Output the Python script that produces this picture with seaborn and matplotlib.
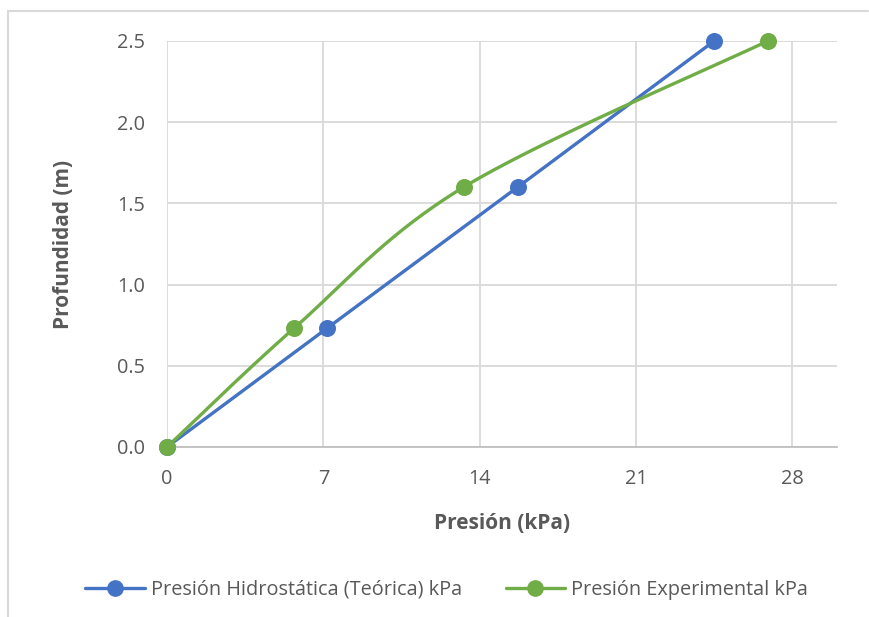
import numpy as np
import pandas as pd
import matplotlib
matplotlib.use("Agg")
import matplotlib.pyplot as plt
from matplotlib.lines import Line2D
import seaborn as sns

# Depth (m) and pressure (kPa) readings
profundidad = [0.0, 0.73, 1.60, 2.50]
presion_teorica = [0.0, 7.15, 15.70, 24.50]
presion_experimental = [0.0, 5.68, 13.28, 26.90]

series_names = ["Presión Hidrostática (Teórica) kPa", "Presión Experimental kPa"]
series_colors = ["#4472C4", "#70AD47"]
x_ticks = [0, 7, 14, 21, 28]
y_ticks = [0.0, 0.5, 1.0, 1.5, 2.0, 2.5]

TEXT = "#595959"
GRID = "#D9D9D9"


def smooth_curve(xs, ys, n=60):
    """Cubic Bezier smoothing through the points (Catmull-Rom style)."""
    p = np.column_stack([xs, ys]).astype(float)
    ext = np.vstack([p[0], p, p[-1]])
    out = []
    t = np.linspace(0, 1, n)[:, None]
    for i in range(len(p) - 1):
        p0, p3 = ext[i + 1], ext[i + 2]
        c1 = p0 + (ext[i + 2] - ext[i]) / 6.0
        c2 = p3 - (ext[i + 3] - ext[i + 1]) / 6.0
        seg = ((1 - t) ** 3) * p0 + 3 * ((1 - t) ** 2) * t * c1 + 3 * (1 - t) * t ** 2 * c2 + t ** 3 * p3
        out.append(seg if i == 0 else seg[1:])
    return np.vstack(out)


sns.set_theme(style="white")
plt.rcParams["font.family"] = ["Open Sans", "DejaVu Sans"]

fig = plt.figure(figsize=(8.69, 6.17), dpi=100)
ax = fig.add_axes([167 / 869, 1 - 447 / 617, (837 - 167) / 869, (447 - 41) / 617])

for xs, name, color in zip([presion_teorica, presion_experimental], series_names, series_colors):
    curve = smooth_curve(xs, profundidad)
    df_curve = pd.DataFrame({"x": curve[:, 0], "y": curve[:, 1]})
    sns.lineplot(data=df_curve, x="x", y="y", sort=False, estimator=None,
                 color=color, linewidth=2.4, ax=ax, zorder=3)
    df_pts = pd.DataFrame({"x": xs, "y": profundidad})
    sns.scatterplot(data=df_pts, x="x", y="y", color=color, s=150,
                    edgecolor=color, linewidth=0, ax=ax, zorder=4, clip_on=False)

ax.set_xlim(0, 30)
ax.set_ylim(0, 2.5)
ax.set_xticks(x_ticks)
ax.set_yticks(y_ticks)
ax.set_yticklabels([f"{v:.1f}" for v in y_ticks])
ax.grid(True, color=GRID, linewidth=1.3)
ax.set_axisbelow(True)
for side in ["top", "right", "left"]:
    ax.spines[side].set_visible(False)
ax.spines["bottom"].set_color("#BFBFBF")
ax.spines["bottom"].set_linewidth(1.3)
ax.tick_params(axis="both", length=0, labelsize=14.3, colors=TEXT)
ax.tick_params(axis="y", pad=16)
ax.tick_params(axis="x", pad=16)

ax.set_xlabel("Presión (kPa)", fontsize=15, fontweight="bold", color=TEXT, labelpad=17)
ax.set_ylabel("Profundidad (m)", fontsize=15, fontweight="bold", color=TEXT, labelpad=31)

handles = [Line2D([0], [0], color=c, linewidth=2.4, marker="o", markersize=11,
                  markerfacecolor=c, markeredgecolor=c) for c in series_colors]
fig.legend(handles, series_names, loc="center", bbox_to_anchor=(0.514, 0.044),
           ncol=2, frameon=False, fontsize=14.3, labelcolor=TEXT,
           handlelength=3.0, handletextpad=0.3, columnspacing=2.2)

# Chart frame
fig.add_artist(Line2D([8 / 869, 868 / 869], [1 - 11 / 617, 1 - 11 / 617],
                      transform=fig.transFigure, color=GRID, linewidth=1.5))
fig.add_artist(Line2D([8 / 869, 8 / 869], [1 - 11 / 617, 0],
                      transform=fig.transFigure, color=GRID, linewidth=1.5))

fig.savefig("out.png", dpi=100)
